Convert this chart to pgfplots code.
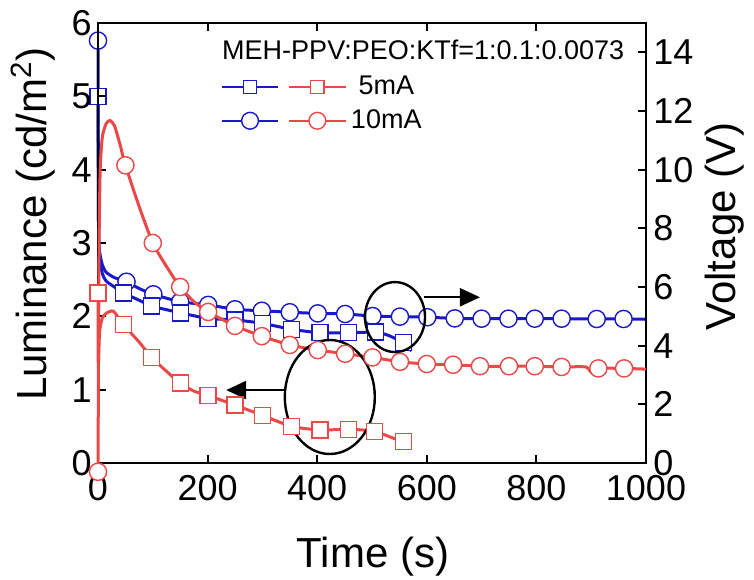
\documentclass[border=0pt]{standalone}
\usepackage{fontspec}
\setmainfont{Liberation Sans}
\usepackage{pgfplots}
\usepackage{pgfplotstable}
\pgfplotsset{compat=1.18}
\usetikzlibrary{arrows.meta}

\definecolor{bl}{RGB}{25,25,200}
\definecolor{rd}{RGB}{235,72,72}

% m = 1 where the original plot shows a marker
% voltage, 10 mA (right axis)
\pgfplotstableread{
t V m
0 14.4 1
1 8.0 0
3 7.2 0
8 6.75 0
15 6.5 0
30 6.32 0
52 6.18 1
75 5.95 0
101 5.75 1
150 5.5 1
201 5.39 1
250 5.24 1
299 5.19 1
350 5.14 1
401 5.1 1
451 5.08 1
501 5.01 1
551 4.99 1
601 4.97 1
651 4.93 1
700 4.92 1
749 4.92 1
797 4.92 1
846 4.92 1
910 4.91 1
959 4.91 1
1000 4.9 0
}\volten

% voltage, 5 mA
\pgfplotstableread{
t V m
0 12.5 1
1 8.0 0
3 7.0 0
8 6.45 0
15 6.2 0
30 6.0 0
46 5.8 1
75 5.55 0
98 5.35 1
150 5.12 1
201 4.93 1
250 4.88 1
300 4.76 1
353 4.56 1
405 4.44 1
457 4.44 1
506 4.46 1
530 4.35 0
557 4.1 1
572 3.82 0
}\voltfive

% luminance, 10 mA (left axis)
\pgfplotstableread{
t L m
0 -0.12 1
1 1.5 0
2 3.0 0
4 4.0 0
8 4.45 0
15 4.63 0
22 4.67 0
30 4.6 0
40 4.35 0
50 4.06 1
75 3.5 0
100 3.0 1
125 2.68 0
150 2.4 1
175 2.2 0
201 2.06 1
250 1.87 1
299 1.73 1
350 1.61 1
401 1.54 1
451 1.49 1
501 1.44 1
551 1.38 1
600 1.35 1
648 1.34 1
697 1.32 1
750 1.32 1
797 1.32 1
846 1.31 1
890 1.31 0
900 1.24 0
913 1.29 1
960 1.29 1
1000 1.28 0
}\lumten

% luminance, 5 mA
\pgfplotstableread{
t L m
0 2.32 1
0.5 1.36 0
3 1.8 0
8 1.98 0
15 2.04 0
28 2.07 0
46 1.89 1
75 1.65 0
98 1.44 1
125 1.25 0
150 1.09 1
175 0.98 0
201 0.92 1
250 0.79 1
300 0.65 1
353 0.5 1
405 0.45 1
457 0.46 1
505 0.43 1
557 0.29 1
572 0.32 0
}\lumfive

\pgfplotsset{
  base/.style={
    scale only axis, width=274pt, height=220pt,
    xmin=0, xmax=1000,
    axis line style={line width=1.2pt},
    major tick length=4pt,
    every tick/.style={black, line width=1pt},
    tick label style={font=\fontsize{18}{20}\selectfont},
    label style={font=\fontsize{21}{24}\selectfont},
    /pgf/number format/assume math mode=true,
    /pgf/number format/1000 sep={},
    scaled ticks=false,
    clip=false,
  },
  bline/.style={bl, line width=1.5pt, smooth, tension=0.4, forget plot},
  rline/.style={rd, line width=1.5pt, smooth, tension=0.4, forget plot},
  marks/.style={only marks, forget plot, restrict expr to domain={\thisrow{m}}{0.5:1.5}},
  sq/.style={mark=square*, mark size=4pt, mark options={solid, fill=white, line width=0.7pt}},
  ci/.style={mark=*, mark size=4.3pt, mark options={solid, fill=white, line width=0.7pt}},
}

\begin{document}
\begin{tikzpicture}
  % right axis: voltage
  \begin{axis}[base,
      axis y line*=right, axis x line=none,
      ymin=0, ymax=15, ytick={0,2,...,14},
      yticklabel style={inner xsep=3.5pt},
      ylabel={Voltage (V)},
      ylabel style={at={(axis description cs:1.1442,0.5375)}, anchor=center},
    ]
    \addplot[bline] table[x=t, y=V] {\volten};
    \addplot[bl, marks, ci] table[x=t, y=V] {\volten};
    \addplot[bline] table[x=t, y=V] {\voltfive};
    \addplot[bl, marks, sq] table[x=t, y=V] {\voltfive};
  \end{axis}

  % left axis: luminance
  \begin{axis}[base,
      ymin=0, ymax=6, ytick={0,1,...,6},
      ytick pos=left,
      xtick={0,200,...,1000},
      yticklabel style={inner xsep=3pt},
      xticklabel style={inner ysep=6pt},
      ylabel={Luminance (cd/m\textsuperscript{2})},
      ylabel style={at={(axis description cs:-0.1186,0.543)}, anchor=center},
      xlabel={Time (s)},
      xlabel style={at={(axis description cs:0.502,-0.2386)}, anchor=base},
      legend columns=2,
      legend image code/.code={\draw[mark repeat=2, mark phase=2] plot coordinates {(0cm,0cm) (0.5cm,0cm) (1cm,0cm)};},
      legend style={draw=none, fill=none, at={(axis description cs:0.2226,0.889)}, anchor=north west,
        font=\fontsize{13.5}{16}\selectfont, inner sep=0pt, row sep=2pt},
    ]
    \addplot[rline] table[x=t, y=L] {\lumten};
    \addplot[rd, marks, ci] table[x=t, y=L] {\lumten};
    \addplot[rline] table[x=t, y=L] {\lumfive};
    \addplot[rd, marks, sq] table[x=t, y=L] {\lumfive};

    \addlegendimage{bl, line width=1.2pt, mark=square*, mark size=3.3pt, mark options={fill=white, line width=0.7pt}}
    \addlegendentry{}
    \addlegendimage{rd, line width=1.2pt, mark=square*, mark size=3.3pt, mark options={fill=white, line width=0.7pt}}
    \addlegendentry{5mA}
    \addlegendimage{bl, line width=1.2pt, mark=*, mark size=4.2pt, mark options={fill=white, line width=0.7pt}}
    \addlegendentry{}
    \addlegendimage{rd, line width=1.2pt, mark=*, mark size=4.2pt, mark options={fill=white, line width=0.7pt}}
    \addlegendentry{10mA}

    \node[anchor=west, inner sep=0pt, font=\fontsize{13.5}{16}\selectfont] at (axis description cs:0.226,0.9386) {MEH-PPV:PEO:KTf=1:0.1:0.0073};

    % annotations
    \draw[line width=1.2pt] (axis cs:423,0.9) ellipse [x radius=22.5pt, y radius=28.5pt];
    \draw[line width=1.2pt, -{Triangle[length=10pt, width=9pt]}] (axis cs:341,0.995) -- (axis cs:234,0.995);
    \draw[line width=1.2pt] (axis cs:542,1.99) ellipse [x radius=15pt, y radius=17.5pt];
    \draw[line width=1.2pt, -{Triangle[length=10pt, width=9pt]}] (axis cs:595,2.26) -- (axis cs:697,2.26);
  \end{axis}

  \pgfresetboundingbox
  \useasboundingbox (-49pt,-58pt) rectangle (328pt,231.5pt);
\end{tikzpicture}
\end{document}
